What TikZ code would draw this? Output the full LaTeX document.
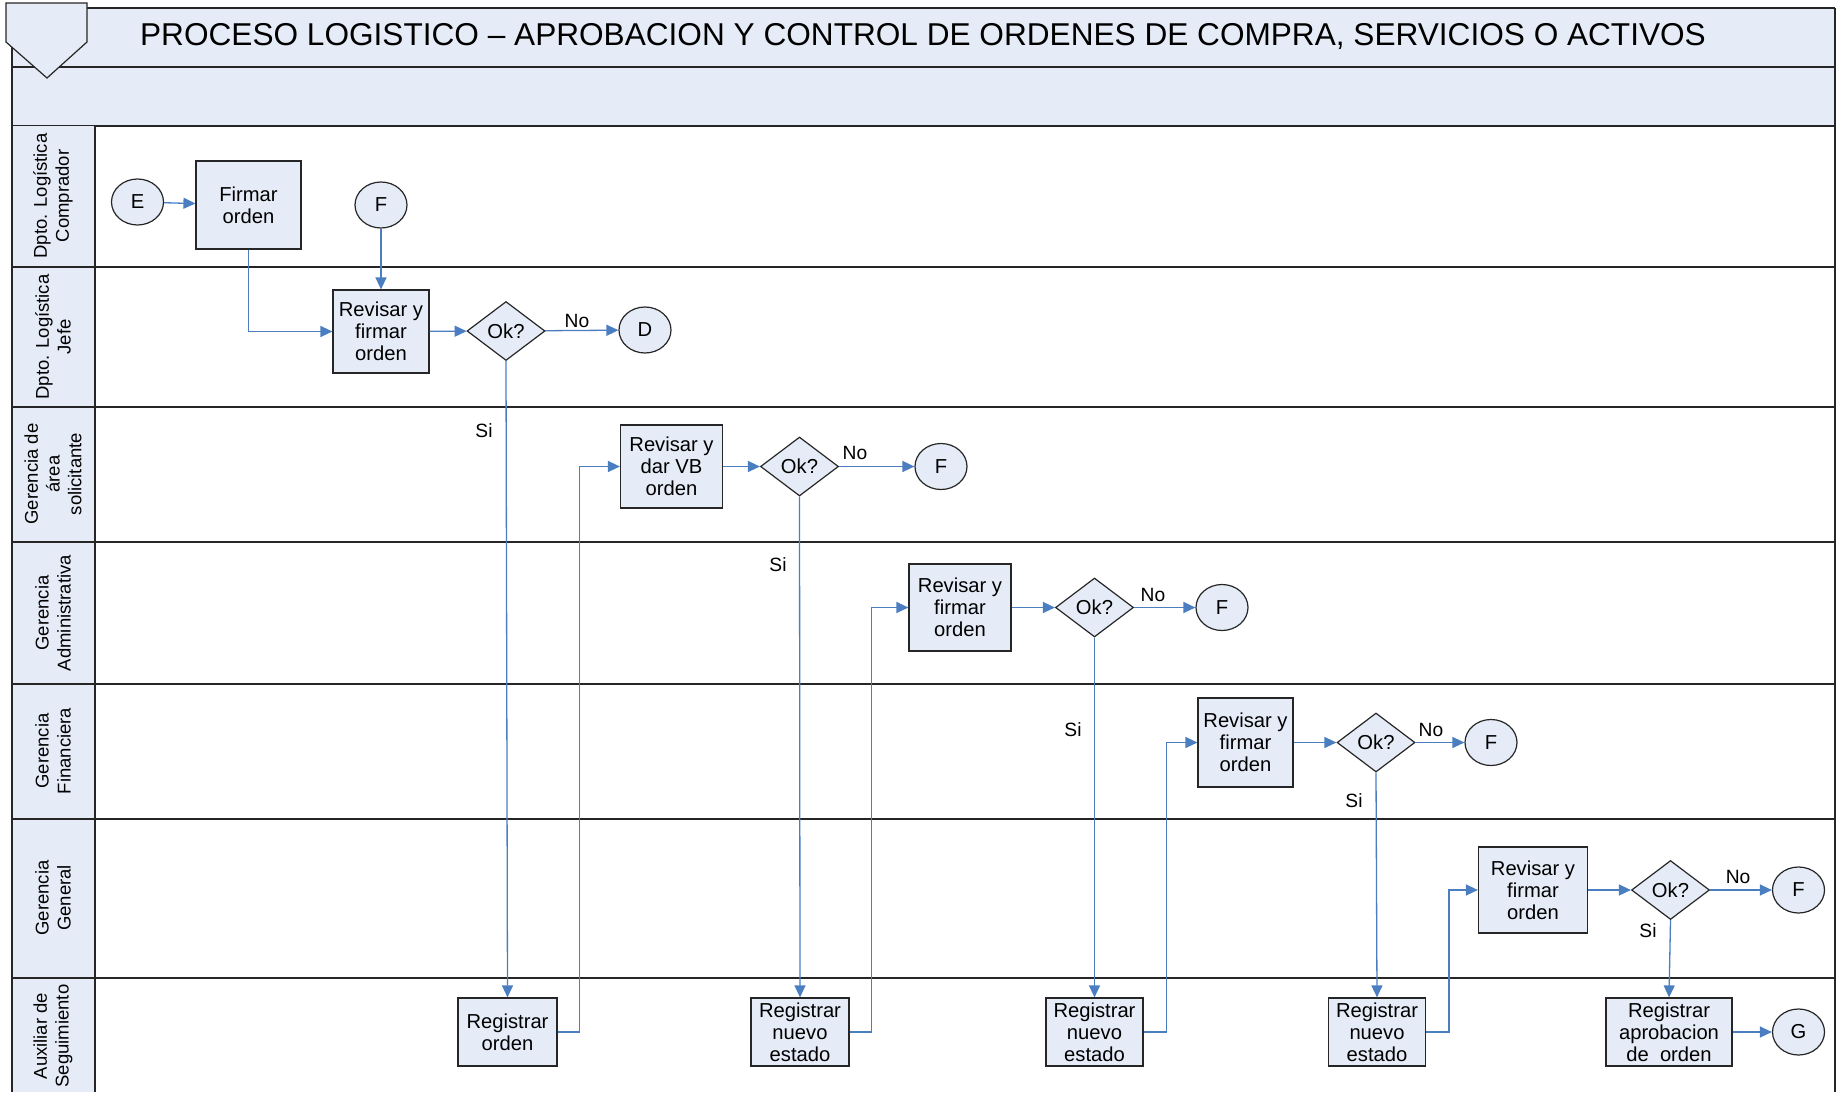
\documentclass[tikz,border=0pt]{standalone}
\usepackage{fontspec}
\setmainfont{Liberation Sans}
\usetikzlibrary{shapes.geometric,arrows.meta}
\definecolor{paneFill}{RGB}{230,236,247}
\definecolor{edgeGray}{RGB}{38,38,38}
\definecolor{flowBlue}{RGB}{74,126,193}

\begin{document}
\begin{tikzpicture}[x=0.5pt,y=-0.5pt,
  txt/.style={font=\fontsize{9.25}{10.9}\selectfont},
  boxtxt/.style={font=\fontsize{10.1}{11.1}\selectfont},
  lane/.style={draw=edgeGray, line width=0.9pt},
  task/.style 2 args={draw=edgeGray, fill=paneFill, line width=0.6pt, rectangle,
    minimum width=#1, minimum height=#2, inner sep=0pt, align=center, boxtxt},
  link/.style={draw=edgeGray, fill=paneFill, line width=0.6pt, ellipse,
    minimum width=26pt, minimum height=23pt, inner sep=0pt, boxtxt},
  check/.style={draw=edgeGray, fill=paneFill, line width=0.6pt, diamond,
    minimum width=39pt, minimum height=29.5pt, inner sep=0pt, aspect=1.32, boxtxt},
  flow/.style={draw=flowBlue, line width=0.65pt, -{Triangle[length=6pt,width=5.5pt]}},
  tag/.style={font=\fontsize{9.6}{11}\selectfont, inner sep=0pt},
  lanelabel/.style={txt, rotate=90, align=center, inner sep=0pt}
]
\useasboundingbox (0,0) rectangle (1836,1092);

% header bands
\fill[paneFill] (12,8) rectangle (1835,126);
\draw[lane] (12,8) -- (1835,8);
\draw[lane] (12,67) -- (1835,67);
\draw[lane] (12,126) -- (1835,126);

% lane label column
\fill[paneFill] (12,126) rectangle (95,1092);
\foreach \yy in {267,407,542,684,819,978}
  \draw[lane] (12,\yy) -- (1835,\yy);
\draw[lane] (95,126) -- (95,1092);
\draw[lane] (12,8) -- (12,1092);
\draw[lane] (1835,8) -- (1835,1092);

% pool marker
\draw[fill=paneFill, draw=edgeGray, line width=0.6pt]
  (6,3) -- (87,3) -- (87,42) -- (47,78) -- (6,42) -- cycle;

% title
\node[inner sep=0pt, font=\fontsize{15.8}{18}\selectfont] (title) at (923,36)
  {PROCESO LOGISTICO -- APROBACION Y CONTROL DE ORDENES DE COMPRA, SERVICIOS O ACTIVOS};

% lane names
\node[lanelabel] (l1) at (53,196) {Dpto. Log\'istica\\Comprador};
\node[lanelabel] (l2) at (53,337) {Dpto. Log\'istica\\Jefe};
\node[lanelabel] (l3) at (53,474) {Gerencia de\\\'area\\solicitante};
\node[lanelabel] (l4) at (53,613) {Gerencia\\Administrativa};
\node[lanelabel] (l5) at (53,751) {Gerencia\\Financiera};
\node[lanelabel] (l6) at (53,898) {Gerencia\\General};
\node[lanelabel] (l7) at (53,1036) {Auxiliar de\\Seguimiento};

% lane 1
\node[link] (E) at (137.5,202) {E};
\node[task={52.5pt}{44pt}] (firmar) at (248.5,205) {Firmar\\orden};
\node[link] (F1) at (381,205) {F};

% lane 2
\node[task={48pt}{41.5pt}] (rev1) at (381,331.5) {Revisar y\\firmar\\orden};
\node[check] (ok1) at (506,331) {Ok?};
\node[link] (D) at (645,330) {D};

% lane 3
\node[task={51pt}{41.5pt}] (rev2) at (671.5,466.5) {Revisar y\\dar VB\\orden};
\node[check] (ok2) at (799.5,466.5) {Ok?};
\node[link] (F2) at (941,466.5) {F};

% lane 4
\node[task={51pt}{43.5pt}] (rev3) at (960,607.5) {Revisar y\\firmar\\orden};
\node[check] (ok3) at (1094.5,607.5) {Ok?};
\node[link] (F3) at (1222,607.5) {F};

% lane 5
\node[task={47.5pt}{44.5pt}] (rev4) at (1245.5,742.5) {Revisar y\\firmar\\orden};
\node[check] (ok4) at (1376,742.5) {Ok?};
\node[link] (F4) at (1491,742.5) {F};

% lane 6
\node[task={54.5pt}{43pt}] (rev5) at (1533,890) {Revisar y\\firmar\\orden};
\node[check] (ok5) at (1670.5,890) {Ok?};
\node[link] (F5) at (1798.5,890) {F};

% lane 7
\node[task={49.5pt}{34pt}] (reg1) at (507.5,1032) {Registrar\\orden};
\node[task={49pt}{34pt}] (reg2) at (800,1032) {Registrar\\nuevo\\estado};
\node[task={48.5pt}{34pt}] (reg3) at (1094.5,1032) {Registrar\\nuevo\\estado};
\node[task={48.5pt}{34pt}] (reg4) at (1377,1032) {Registrar\\nuevo\\estado};
\node[task={63pt}{34pt}] (reg5) at (1669,1032) {Registrar\\aprobacion\\de\ \ orden};
\node[link] (G) at (1798.5,1032) {G};

% decision labels
\node[tag] (no1) at (577,321) {No};
\node[tag] (si1) at (484,431) {Si};
\node[tag] (no2) at (855,453) {No};
\node[tag] (si2) at (778,565) {Si};
\node[tag] (no3) at (1153,595) {No};
\node[tag] (si3) at (1073,730) {Si};
\node[tag] (no4) at (1431,730) {No};
\node[tag] (si4) at (1354,801) {Si};
\node[tag] (no5) at (1738,877) {No};
\node[tag] (si5) at (1648,931) {Si};

% connectors
\draw[flow] (E) -- (firmar);
\draw[flow] (firmar.south) |- (rev1.west);
\draw[flow] (F1) -- (rev1);
\draw[flow] (rev1) -- (ok1);
\draw[flow] (ok1) -- (D);
\draw[flow] (ok1.south) -- (reg1.north);

\draw[flow] (reg1.east) -- ++(22,0) |- (rev2.west);
\draw[flow] (rev2) -- (ok2);
\draw[flow] (ok2) -- (F2);
\draw[flow] (ok2.south) -- (reg2.north);

\draw[flow] (reg2.east) -- ++(22,0) |- (rev3.west);
\draw[flow] (rev3) -- (ok3);
\draw[flow] (ok3) -- (F3);
\draw[flow] (ok3.south) -- (reg3.north);

\draw[flow] (reg3.east) -- ++(23,0) |- (rev4.west);
\draw[flow] (rev4) -- (ok4);
\draw[flow] (ok4) -- (F4);
\draw[flow] (ok4.south) -- (reg4.north);

\draw[flow] (reg4.east) -- ++(23,0) |- (rev5.west);
\draw[flow] (rev5) -- (ok5);
\draw[flow] (ok5) -- (F5);
\draw[flow] (ok5.south) -- (reg5.north);
\draw[flow] (reg5) -- (G);
\end{tikzpicture}
\end{document}
